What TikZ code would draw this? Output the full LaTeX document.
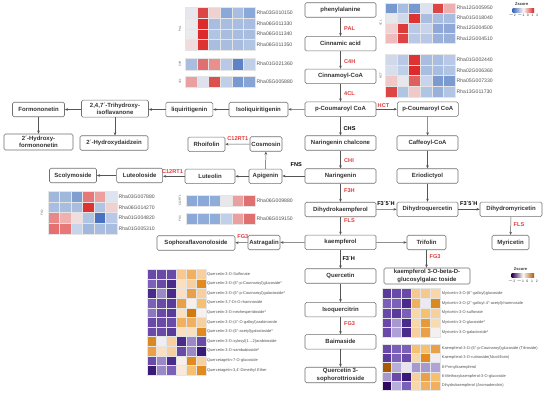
\documentclass[tikz,border=0pt]{standalone}
\usepackage{fontspec}
\setmainfont{Liberation Sans}
\usetikzlibrary{arrows.meta}
\definecolor{boxline}{HTML}{707070}
\definecolor{boxtext}{HTML}{333333}
\definecolor{arr}{HTML}{555555}
\definecolor{enzred}{HTML}{E23A3A}
\definecolor{lbl}{HTML}{505050}
\definecolor{zblue}{HTML}{3A68C0}
\definecolor{zred}{HTML}{DD2222}
\definecolor{zpur}{HTML}{2D004B}
\definecolor{zora}{HTML}{B35806}
\newcommand\hmrow[5]{%
  \foreach \cc [count=\ii from 0] in {#5}{%
    \edef\tmpdef{\noexpand\definecolor{hmc}{HTML}{\cc}}\tmpdef
    \filldraw[fill=hmc,draw=white!80!gray,line width=0.2pt] ({#1+\ii*#3},{#2}) rectangle ({#1+(\ii+1)*#3},{#2+#4});
  }%
}
\newcommand\dpr{\textquotesingle\textquotesingle}
\begin{document}
\begin{tikzpicture}[x=1pt,y=-1pt,
  box/.style={draw=boxline,line width=0.55pt,rounded corners=1.5pt,fill=white,text=boxtext,
    font=\fontsize{6}{7.2}\selectfont\bfseries,minimum height=14.5pt,inner sep=0.8pt,align=center},
  arrow/.style={draw=arr,line width=0.5pt,-{Stealth[length=3.2pt,width=2.6pt]}},
  enz/.style={text=enzred,font=\fontsize{5.6}{6}\selectfont\bfseries,inner sep=0pt},
  enzb/.style={text=black,font=\fontsize{5.6}{6}\selectfont\bfseries,inner sep=0pt},
  gl/.style={text=lbl,font=\fontsize{5.1}{5.5}\selectfont,inner sep=0pt,anchor=west},
  ml/.style={text=lbl,font=\fontsize{3.95}{4.3}\selectfont,inner sep=0pt,anchor=west},
  sl/.style={text=lbl,font=\fontsize{2.8}{3}\selectfont,inner sep=0pt,rotate=90},
  zt/.style={text=black!80,font=\fontsize{4}{4.4}\selectfont\bfseries,inner sep=0pt},
  ztk/.style={text=black!80,font=\fontsize{3.4}{3.8}\selectfont,inner sep=0pt}]
\useasboundingbox[fill=white] (0,0) rectangle (550,394);

% ---------------- boxes ----------------
\node[box,minimum width=71pt] (phen) at (340.5,10) {phenylalanine};
\node[box,minimum width=71pt] (cinn) at (340.5,43.7) {Cinnamic acid};
\node[box,minimum width=71pt] (cinncoa) at (340.5,76.3) {Cinnamoyl-CoA};
\node[box,minimum width=71pt] (pcoa) at (340.5,109.2) {p-Coumaroyl CoA};
\node[box,minimum width=61pt] (pcoa2) at (427.8,109.2) {p-Coumaroyl CoA};
\node[box,minimum width=59pt] (isoliq) at (258.5,109.5) {Isoliquiritigenin};
\node[box,minimum width=47pt] (liq) at (189.3,109.5) {liquiritigenin};
\node[box,minimum width=67pt,minimum height=17pt] (trihy) at (115,108.7) {2,4,7´-Trihydroxy-\\isoflavanone};
\node[box,minimum width=52pt] (formo) at (38.5,109.5) {Formononetin};
\node[box,minimum width=69pt,minimum height=16pt] (hformo) at (38.5,142) {2´-Hydroxy-\\formononetin};
\node[box,minimum width=68pt] (hdaid) at (114,143) {2´-Hydroxydaidzein};
\node[box,minimum width=71pt] (narch) at (340.5,143) {Naringenin chalcone};
\node[box,minimum width=61pt] (caff) at (427.5,143) {Caffeoyl-CoA};
\node[box,minimum width=32pt] (cosm) at (266,144) {Cosmosin};
\node[box,minimum width=37pt] (rhoi) at (206.5,144.3) {Rhoifolin};
\node[box,minimum width=71pt] (nar) at (340.5,176) {Naringenin};
\node[box,minimum width=61pt] (erio) at (427.5,176) {Eriodictyol};
\node[box,minimum width=33pt] (api) at (265.5,176.3) {Apigenin};
\node[box,minimum width=50pt] (lut) at (210,176.3) {Luteolin};
\node[box,minimum width=46pt] (luteo) at (139.7,175.5) {Luteoloside};
\node[box,minimum width=47pt] (scoly) at (73,175.5) {Scolymoside};
\node[box,minimum width=71pt] (dhk) at (340.5,209.5) {Dihydrokaempferol};
\node[box,minimum width=61pt] (dhq) at (427.5,209.3) {Dihydroquercetin};
\node[box,minimum width=62pt] (dhm) at (511,209.3) {Dihydromyricetin};
\node[box,minimum width=71pt] (kae) at (340.5,242.3) {kaempferol};
\node[box,minimum width=32pt] (astr) at (264,242.5) {Astragalin};
\node[box,minimum width=78pt] (soph) at (196,243) {Sophoraflavonoloside};
\node[box,minimum width=39pt] (trif) at (426.5,242.5) {Trifolin};
\node[box,minimum width=37pt] (myr) at (510.5,242.5) {Myricetin};
\node[box,minimum width=86pt,minimum height=16pt] (kgal) at (427,276) {kaempferol 3-O-beta-D-\\glucosylgalac toside};
\node[box,minimum width=71pt] (quer) at (340.5,276) {Quercetin};
\node[box,minimum width=71pt] (isoq) at (340.5,309.7) {Isoquercitrin};
\node[box,minimum width=71pt] (baim) at (340.5,341.8) {Baimaside};
\node[box,minimum width=71pt,minimum height=15.5pt] (qsoph) at (340.5,375) {Quercetin 3-\\sophorottrioside};

% ---------------- arrows ----------------
\draw[arrow] (phen) -- (cinn);
\draw[arrow] (cinn) -- (cinncoa);
\draw[arrow] (cinncoa) -- (pcoa);
\draw[arrow] (pcoa) -- (pcoa2);
\draw[arrow] (pcoa) -- (isoliq);
\draw[arrow] (isoliq) -- (liq);
\draw[arrow] (liq) -- (liq.west -| trihy.east);
\draw[arrow] (formo.east -| trihy.west) -- (formo);
\draw[arrow] (formo) -- (hformo);
\draw[arrow] (trihy.south) -- (trihy.south |- hdaid.north);
\draw[arrow] (pcoa) -- (narch);
\draw[arrow] (pcoa2) -- (caff);
\draw[arrow] (caff) -- (erio);
\draw[arrow] (erio) -- (dhq);
\draw[arrow] (narch) -- (nar);
\draw[arrow] (nar.west) -- (api.east |- nar.west);
\draw[arrow] (api) -- (cosm);
\draw[arrow] (cosm) -- (rhoi);
\draw[arrow] (api) -- (lut);
\draw[arrow] (lut.west) -- (luteo.east |- lut.west);
\draw[arrow] (luteo) -- (scoly);
\draw[arrow] (nar) -- (dhk);
\draw[arrow] (dhk) -- (dhq);
\draw[arrow] (dhq) -- (dhm);
\draw[arrow] (dhm) -- (myr);
\draw[arrow] (dhk) -- (kae);
\draw[arrow] (kae) -- (astr);
\draw[arrow] (astr) -- (soph);
\draw[arrow] (kae) -- (trif);
\draw[arrow] (trif.south) -- (trif.south |- kgal.north);
\draw[arrow] (kae) -- (quer);
\draw[arrow] (quer) -- (isoq);
\draw[arrow] (isoq) -- (baim);
\draw[arrow] (baim) -- (qsoph);

% ---------------- enzyme labels ----------------
\node[enz,anchor=west] (ePAL) at (344,28.5) {PAL};
\node[enz,anchor=west] (eC4H) at (344,61.5) {C4H};
\node[enz,anchor=west] (e4CL) at (344,94) {4CL};
\node[enz] (eHCT) at (383.5,105.3) {HCT};
\node[enzb,anchor=west] (eCHS) at (343.5,128.7) {CHS};
\node[enz,anchor=west] (eCHI) at (344,161) {CHI};
\node[enzb] (eFNS) at (296.3,164.3) {FNS};
\node[enz] (eC12a) at (237.8,138.3) {C12RT1};
\node[enz] (eC12b) at (172.5,171.5) {C12RT1};
\node[enz,anchor=west] (eF3H) at (344,191) {F3H};
\node[enzb] (eF35a) at (386,203.5) {F3´5´H};
\node[enzb] (eF35b) at (468.8,203.5) {F3´5´H};
\node[enz,anchor=west] (eFLS) at (344,220.3) {FLS};
\node[enz,anchor=west] (eFLS2) at (513.5,224.3) {FLS};
\node[enz] (eFG3a) at (242.8,236.7) {FG3};
\node[enz,anchor=west] (eFG3b) at (429.5,256.3) {FG3};
\node[enzb,anchor=west] (eF3pH) at (342.3,258.8) {F3´H};
\node[enz,anchor=west] (eFG3c) at (344,324) {FG3};

% ---------------- gene heatmaps (blue/red) ----------------
\hmrow{185}{7.3}{11.67}{10.7}{E8E8EC,DD4444,F0D0D0,8AA8D8,A8BDE0,8AA8D8}
\hmrow{185}{18}{11.67}{10.7}{EBEBEE,DD2A2A,A8BDE0,A8BDE0,A8BDE0,A8BDE0}
\hmrow{185}{28.7}{11.67}{10.7}{EBEBEE,DD2A2A,B0C4E4,A8BDE0,A8BDE0,A8BDE0}
\hmrow{185}{39.4}{11.67}{10.7}{F0DCDC,DD3333,A8BDE0,A8BDE0,A8BDE0,B0C4E4}
\node[gl] (g1) at (256.5,12.65) {Rha03G010150};
\node[gl] (g2) at (256.5,23.35) {Rha06G011330};
\node[gl] (g3) at (256.5,34.05) {Rha06G011340};
\node[gl] (g4) at (256.5,44.75) {Rha06G011350};
\node[sl] (s1) at (180,28.7) {PAL};
\hmrow{185}{58.3}{11.67}{11.5}{A8BDE0,E07070,E89090,B8C8E6,5C82C8,C0CFE8}
\node[gl] (g5) at (256.5,64) {Rha01G021360};
\node[sl] (s2) at (180,64) {C4H};
\hmrow{185}{76}{11.67}{10.7}{EAA0A0,DDE2EE,DD5050,C0CFE8,7898D0,88A4D6}
\node[gl] (g6) at (256.5,81.3) {Rha05G005880};
\node[sl] (s3) at (180,81.3) {4CL};

\hmrow{385}{2.7}{11.67}{10.15}{7898D0,A8BDE0,7898D0,DDE2EE,DD4444,ECB0B0}
\hmrow{385}{12.85}{11.67}{10.15}{E8E8EA,D0D8EA,DD3333,A8BDE0,A8BDE0,A8BDE0}
\hmrow{385}{23}{11.67}{10.15}{F0D0D0,DD3A3A,B8C8E6,C8D4EC,90A8D8,90A8D8}
\hmrow{385}{33.15}{11.67}{10.15}{EEBCBC,DD4444,B8C8E6,B8C8E6,98B0DA,98B0DA}
\node[gl] (g7) at (456.5,7.8) {Rha12G005950};
\node[gl] (g8) at (456.5,17.9) {Rha01G018040};
\node[gl] (g9) at (456.5,28.1) {Rha12G004500};
\node[gl] (g10) at (456.5,38.2) {Rha12G004510};
\node[sl] (s4) at (380.7,23) {4CL};
\hmrow{385}{54.3}{11.67}{10.6}{D0D8EA,B8C8E6,DD3333,A8BDE0,A8BDE0,B8C8E6}
\hmrow{385}{64.9}{11.67}{10.6}{D8DFEC,C0CFE8,DD2A2A,A8BDE0,A8BDE0,B0C4E4}
\hmrow{385}{75.5}{11.67}{10.6}{F0C8C8,E8E8EC,E06060,C8D4EC,7A9AD0,7A9AD0}
\hmrow{385}{86.1}{11.67}{10.6}{DD4444,B0C4E4,F0C8C8,B0C4E4,98B0DA,B0C4E4}
\node[gl] (g11) at (456.5,59.6) {Rha01G002440};
\node[gl] (g12) at (456.5,70.2) {Rha02G006360};
\node[gl] (g13) at (456.5,80.8) {Rha05G007330};
\node[gl] (g14) at (456.5,91.4) {Rha13G011730};
\node[sl] (s5) at (380.7,75.5) {HCT};

\hmrow{47.7}{191.3}{11.5}{10.6}{A0B8DC,A0B8DC,7F9FD0,E87878,EDA0A0,DDE4F0}
\hmrow{47.7}{201.9}{11.5}{10.6}{A8BDE0,A8BDE0,A8BDE0,DD3333,B0C4E4,F0D0D0}
\hmrow{47.7}{212.5}{11.5}{10.6}{E88888,F0B0B0,F0DEDE,B0C4E4,4A72C0,B8C8E6}
\hmrow{47.7}{223.1}{11.5}{10.6}{E67070,E87878,C8D4EC,A0B8DC,A8BDE0,A8BDE0}
\node[gl] (g15) at (118.5,196.6) {Rha03G007880};
\node[gl] (g16) at (118.5,207.2) {Rha06G014270};
\node[gl] (g17) at (118.5,217.8) {Rha01G004820};
\node[gl] (g18) at (118.5,228.4) {Rha01G005310};
\node[sl] (s6) at (42,212.5) {FG2};

\hmrow{185.7}{195}{11.55}{11}{8AA8D8,8AA8D8,90ACD8,E8E8EC,E8A0A0,E07070}
\hmrow{185.7}{213.3}{11.55}{11}{8AA8D8,90ACD8,90ACD8,C0D0E8,E8A0A0,E07070}
\node[gl] (g19) at (256.5,200.5) {Rha06G009880};
\node[gl] (g20) at (256.5,218.8) {Rha06G019150};
\node[sl] (s7) at (180,200.5) {C12RT1};
\node[sl] (s8) at (180,218.8) {FG3};

% legend 1
\node[zt] (z1) at (521.7,4.5) {Zscore};
\shade[left color=zblue,right color=zred,middle color=white!95!gray] (512.5,8.6) rectangle (534,12.4);
\node[ztk] (z1t) at (523.3,15.6) {$-$2\hspace{1.4pt}$-$1\hspace{2.4pt}0\hspace{2.8pt}1\hspace{2.8pt}2};

% ---------------- metabolite heatmaps (purple/orange) ----------------
\hmrow{146.7}{269.3}{9.83}{9.6}{6A4AA8,6A4AA8,6A4AA8,F8C890,F0B060,F8D0A0}
\hmrow{146.7}{278.9}{9.83}{9.6}{7A60B8,6A4AA8,4A2A8A,FBE0C0,F8D0A0,E08A20}
\hmrow{146.7}{288.5}{9.83}{9.6}{4A2A8A,9A88C8,4A2A8A,FBE0C0,EAA048,F8D0A0}
\hmrow{146.7}{298.1}{9.83}{9.6}{7A60B8,6A4AA8,5A3A9A,EAA048,F8F0E8,F5C070}
\hmrow{146.7}{307.7}{9.83}{9.6}{8A78C0,6A4AA8,5A3A9A,FBE0C0,D07A10,F6F0EE}
\hmrow{146.7}{317.3}{9.83}{9.6}{6A4AA8,6A4AA8,6A4AA8,F0B060,F0B060,F8D0A0}
\hmrow{146.7}{326.9}{9.83}{9.6}{6A4AA8,6A4AA8,5A3A9A,FBE0C0,FBE0C0,E08A20}
\hmrow{146.7}{336.5}{9.83}{9.6}{D88A20,EEEEF4,F8D0A0,4A2A8A,9A88C8,6A4AA8}
\hmrow{146.7}{346.1}{9.83}{9.6}{EAA048,FBE0C0,F8D0A0,6A4AA8,9A88C8,3A1A78}
\hmrow{146.7}{355.7}{9.83}{9.6}{6A4AA8,9A88C8,4A2A8A,F8F0E8,E08A20,F8D0A0}
\hmrow{146.7}{365.3}{9.83}{9.6}{3A1A78,9A88C8,7A60B8,FBE8D8,F5C070,E08A20}
\node[ml] (q1) at (206.8,274.1) {Quercetin-3-O-Sulfonate};
\node[ml] (q2) at (206.8,283.7) {Quercetin-3-O-(6\dpr-p-Coumaroyl)glucoside*};
\node[ml] (q3) at (206.8,293.3) {Quercetin-3-O-(6\dpr-p-Coumaroyl)galactoside*};
\node[ml] (q4) at (206.8,302.9) {Quercetin-3,7-Di-O-rhamnoside};
\node[ml] (q5) at (206.8,312.5) {Quercetin-3-O-neohesperidoside*};
\node[ml] (q6) at (206.8,322.1) {Quercetin-3-O-(4\dpr-O-galloyl)arabinoside};
\node[ml] (q7) at (206.8,331.7) {Quercetin-3-O-(6\dpr-acetyl)galactoside*};
\node[ml] (q8) at (206.8,341.3) {Quercetin-3-O-xylosyl(1→2)arabinoside};
\node[ml] (q9) at (206.8,350.9) {Quercetin-3-O-sambubioside*};
\node[ml] (q10) at (206.8,360.5) {Quercetagetin-7-O-glucoside};
\node[ml] (q11) at (206.8,370.1) {Quercetagetin-3,4\textquotesingle-Dimethyl Ether};

\hmrow{381.7}{288.3}{9.72}{9.8}{5A3A9A,6A4AA8,6A4AA8,F5C890,F5C890,F8D6A8}
\hmrow{381.7}{298.1}{9.72}{9.8}{7A60B8,7A60B8,4A2A8A,F0B060,ECE8F4,D88A20}
\hmrow{381.7}{307.9}{9.72}{9.8}{6A4AA8,5A3A9A,7A60B8,F8D8A8,F5C070,F8D0A0}
\hmrow{381.7}{317.7}{9.72}{9.8}{6A4AA8,A898D0,4A2A8A,F8D8A8,E89A3A,F8DCB0}
\hmrow{381.7}{327.5}{9.72}{9.8}{6A4AA8,B0A0D8,4A2A8A,F8D0A0,EAA048,F4F0F0}
\node[ml] (m1) at (441.7,293.2) {Myricetin-3-O-(6\dpr-galloyl)glucoside};
\node[ml] (m2) at (441.7,303) {Myricetin-3-O-(2\dpr-galloyl-4\dpr-acetyl)rhamnoside};
\node[ml] (m3) at (441.7,312.8) {Myricetin-3-O-sulfonate};
\node[ml] (m4) at (441.7,322.6) {Myricetin-3-O-glucoside*};
\node[ml] (m5) at (441.7,332.4) {Myricetin-3-O-galactoside*};

\hmrow{381.7}{344}{9.72}{9.2}{6A4AA8,7A60B8,7A60B8,F5C070,F5C070,EAA048}
\hmrow{381.7}{353.2}{9.72}{9.2}{5A3A9A,7A60B8,6A4AA8,F8D8A8,E08A20,F0EEF4}
\hmrow{381.7}{362.4}{9.72}{9.2}{A85A08,B8AEDC,E8E4F0,A898D0,A898D0,B0A4D6}
\hmrow{381.7}{371.6}{9.72}{9.2}{A898D0,6A4AA8,3A1A78,F8D0A0,EAA048,F5C070}
\hmrow{381.7}{380.8}{9.72}{9.2}{2D0A60,B8AEDC,7A60B8,F8D8A8,F0B060,F0B060}
\node[ml] (k1) at (441.7,348.6) {Kaempferol-3-O-(6\dpr-p-Coumaroyl)glucoside (Tiliroside)};
\node[ml] (k2) at (441.7,357.8) {Kaempferol-3-O-rutinoside(Nicotiflorin)};
\node[ml] (k3) at (441.7,367) {8-Prenylkaempferol};
\node[ml] (k4) at (441.7,376.2) {6-Methoxykaempferol-3-O-glucoside};
\node[ml] (k5) at (441.7,385.4) {Dihydrokaempferol (Aromadendrin)};

% legend 2
\node[zt] (z2) at (520.5,269) {Zscore};
\shade[left color=zpur,right color=zora,middle color=white!95!gray] (511.7,273.3) rectangle (534,277.7);
\node[ztk] (z2t) at (522.8,281.6) {$-$2\hspace{1.4pt}$-$1\hspace{2.4pt}0\hspace{2.8pt}1\hspace{2.8pt}2};
\end{tikzpicture}
\end{document}
